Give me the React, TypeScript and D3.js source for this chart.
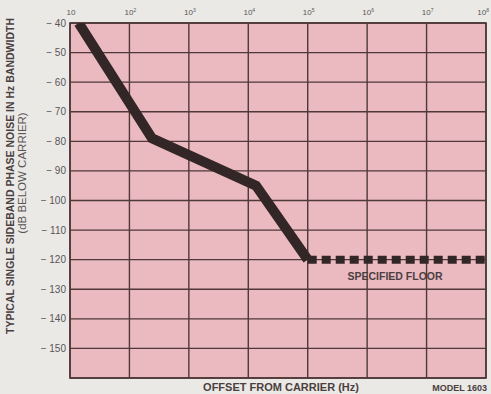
import React from "react";
import * as d3 from "d3";

const xTicks = [1e1, 1e2, 1e3, 1e4, 1e5, 1e6, 1e7, 1e8];
const xTickExp = [1, 2, 3, 4, 5, 6, 7, 8];
const yTicks = [-40, -50, -60, -70, -80, -90, -100, -110, -120, -130, -140, -150];
const noiseFreq = [14, 240, 13500, 100000];
const noiseDb = [-40, -79, -95, -120];
const floorFreq = [100000, 100000000];
const floorDb = [-120, -120];

const W = 491, H = 394;
const m = { left: 70, right: 486, top: 23, bottom: 378 };

export default function App() {
  const x = d3.scaleLog().domain([10, 1e8]).range([m.left, m.right]);
  const y = d3.scaleLinear().domain([-40, -160]).range([m.top, m.bottom]);
  const line = d3.line<[number, number]>().x(d => x(d[0])).y(d => y(d[1]));
  const solid = noiseFreq.map((f, i) => [f, noiseDb[i]] as [number, number]);
  const floor = floorFreq.map((f, i) => [f, floorDb[i]] as [number, number]);
  const grid = "#4e3838";
  const font = "Liberation Sans, Arial, sans-serif";
  return (
    <svg width={W} height={H} style={{ position: "absolute", left: 0, top: 0, background: "#ebe9e6" }}>
      <defs>
        <clipPath id="plot">
          <rect x={m.left} y={m.top} width={m.right - m.left} height={m.bottom - m.top} />
        </clipPath>
      </defs>
      <rect x={m.left} y={m.top} width={m.right - m.left} height={m.bottom - m.top} fill="#ebb9c0" />
      {xTicks.map(t => (
        <line key={"gx" + t} x1={x(t)} x2={x(t)} y1={m.top} y2={m.bottom} stroke={grid} strokeWidth={1.4} />
      ))}
      {yTicks.concat([-160]).map(t => (
        <line key={"gy" + t} x1={m.left} x2={m.right} y1={y(t)} y2={y(t)} stroke={grid} strokeWidth={1.4} />
      ))}
      <rect x={m.left} y={m.top} width={m.right - m.left} height={m.bottom - m.top} fill="none" stroke={grid} strokeWidth={1.6} />
      <g clipPath="url(#plot)">
        <path d={line(solid) || ""} fill="none" stroke="#332626" strokeWidth={10} strokeLinejoin="miter" />
        <path d={line(floor) || ""} fill="none" stroke="#332626" strokeWidth={8} strokeDasharray="9 5" />
      </g>
      {xTicks.map((t, i) => {
        const last = i === xTicks.length - 1;
        return (
          <text key={"tx" + t} x={last ? W - 2 : x(t) + 1} y={15} textAnchor={last ? "end" : "middle"} fontFamily={font} fontSize={8} fill="#555">
            10
            {xTickExp[i] > 1 && <tspan fontSize={5} dy={-3}>{xTickExp[i]}</tspan>}
          </text>
        );
      })}
      {yTicks.map(t => (
        <text key={"ty" + t} x={66} y={y(t) + 3.5} textAnchor="end" fontFamily={font} fontSize={10} fill="#5a5555">
          {"\u2212 " + Math.abs(t)}
        </text>
      ))}
      <text transform="translate(14,176) rotate(-90)" textAnchor="middle" fontFamily={font} fontSize={10.5} fontWeight="bold" fill="#4a4040">
        TYPICAL SINGLE SIDEBAND PHASE NOISE IN Hz BANDWIDTH
      </text>
      <text transform="translate(26,173) rotate(-90)" textAnchor="middle" fontFamily={font} fontSize={11.5} fill="#5a5555">
        (dB BELOW CARRIER)
      </text>
      <text x={281} y={391} textAnchor="middle" fontFamily={font} fontSize={11} fontWeight="bold" fill="#4a4040">
        OFFSET FROM CARRIER (Hz)
      </text>
      <text x={487} y={391} textAnchor="end" fontFamily={font} fontSize={9} fontWeight="bold" fill="#4a4040">
        MODEL 1603
      </text>
      <text x={395} y={280} textAnchor="middle" fontFamily={font} fontSize={10.5} fontWeight="bold" fill="#4a4040">
        SPECIFIED FLOOR
      </text>
    </svg>
  );
}
